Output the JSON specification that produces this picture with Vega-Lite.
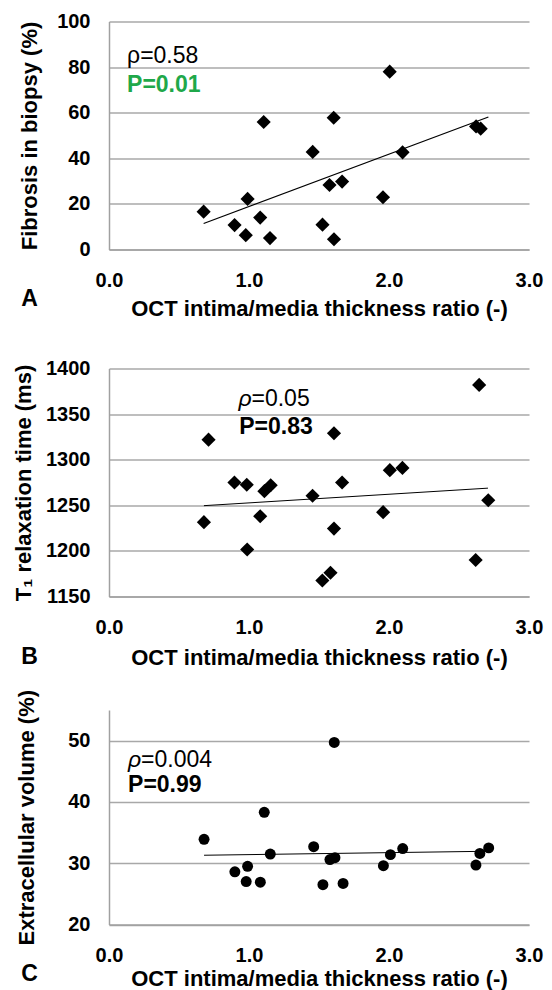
{
  "$schema": "https://vega.github.io/schema/vega-lite/v6.json",
  "background": "white",
  "padding": {"left": 12, "top": 11.5, "right": 5, "bottom": 5},
  "datasets": {
    "a": [
      {"x": 0.676, "y": 16.6}, {"x": 0.897, "y": 10.7}, {"x": 0.977, "y": 6.3}, {"x": 0.99, "y": 22.2},
      {"x": 1.08, "y": 14.0}, {"x": 1.105, "y": 55.9}, {"x": 1.15, "y": 5.0}, {"x": 1.455, "y": 42.8},
      {"x": 1.525, "y": 10.9}, {"x": 1.575, "y": 28.3}, {"x": 1.605, "y": 57.8}, {"x": 1.607, "y": 4.5},
      {"x": 1.665, "y": 29.8}, {"x": 1.957, "y": 22.9}, {"x": 2.005, "y": 78.0}, {"x": 2.097, "y": 42.6},
      {"x": 2.622, "y": 54.0}, {"x": 2.655, "y": 53.0}
    ],
    "aTrend": [{"x": 0.676, "y": 11.4}, {"x": 2.71, "y": 58.1}],
    "b": [
      {"x": 0.678, "y": 1231.5}, {"x": 0.711, "y": 1322}, {"x": 0.896, "y": 1275}, {"x": 0.984, "y": 1272.5},
      {"x": 0.987, "y": 1201.5}, {"x": 1.08, "y": 1238}, {"x": 1.11, "y": 1265.5}, {"x": 1.155, "y": 1272},
      {"x": 1.454, "y": 1260.5}, {"x": 1.524, "y": 1167.5}, {"x": 1.582, "y": 1176}, {"x": 1.607, "y": 1329},
      {"x": 1.607, "y": 1224.5}, {"x": 1.665, "y": 1275}, {"x": 1.958, "y": 1242.5}, {"x": 2.006, "y": 1288.5},
      {"x": 2.096, "y": 1291}, {"x": 2.619, "y": 1190}, {"x": 2.644, "y": 1382}, {"x": 2.709, "y": 1255.5}
    ],
    "bTrend": [{"x": 0.678, "y": 1249.6}, {"x": 2.707, "y": 1268.8}],
    "c": [
      {"x": 0.679, "y": 33.9}, {"x": 0.899, "y": 28.6}, {"x": 0.98, "y": 27.0}, {"x": 0.99, "y": 29.5},
      {"x": 1.081, "y": 26.9}, {"x": 1.109, "y": 38.3}, {"x": 1.152, "y": 31.5}, {"x": 1.462, "y": 32.7},
      {"x": 1.528, "y": 26.5}, {"x": 1.578, "y": 30.6}, {"x": 1.614, "y": 30.9}, {"x": 1.609, "y": 49.7},
      {"x": 1.672, "y": 26.7}, {"x": 1.96, "y": 29.6}, {"x": 2.01, "y": 31.4}, {"x": 2.098, "y": 32.4},
      {"x": 2.621, "y": 29.7}, {"x": 2.649, "y": 31.6}, {"x": 2.712, "y": 32.5}
    ],
    "cTrend": [{"x": 0.679, "y": 31.3}, {"x": 2.705, "y": 31.95}]
  },
  "config": {
    "view": {"stroke": null},
    "font": "Liberation Sans",
    "axis": {
      "labelFont": "Liberation Sans", "labelFontWeight": "bold", "labelFontSize": 20, "labelColor": "black",
      "titleFont": "Liberation Sans", "titleFontWeight": "bold", "titleFontSize": 22, "titleColor": "black",
      "ticks": false, "domainColor": "#a0a0a0", "domainWidth": 1.5, "gridColor": "#a8a8a8", "gridWidth": 1.5,
      "labelFlush": false, "labelOverlap": false, "labelBound": false
    }
  },
  "vconcat": [
    {
      "width": 420, "height": 228,
      "layer": [
        {
          "data": {"name": "a"},
          "mark": {"type": "point", "shape": "diamond", "filled": true, "color": "black", "opacity": 1, "size": 200},
          "encoding": {
            "x": {"field": "x", "type": "quantitative", "scale": {"domain": [0, 3], "nice": false},
                  "axis": {"values": [0, 1, 2, 3], "format": ".1f", "grid": false, "labelPadding": 21, "titlePadding": 8, "title": "OCT intima/media thickness ratio (-)"}},
            "y": {"field": "y", "type": "quantitative", "scale": {"domain": [0, 100], "nice": false},
                  "axis": {"values": [0, 20, 40, 60, 80, 100], "labelPadding": 19, "titlePadding": 15, "title": "Fibrosis in biopsy (%)"}}
          }
        },
        {
          "data": {"name": "aTrend"},
          "mark": {"type": "line", "color": "black", "strokeWidth": 1.2},
          "encoding": {"x": {"field": "x", "type": "quantitative"}, "y": {"field": "y", "type": "quantitative"}}
        },
        {
          "data": {"values": [{"x": 0.129, "y": 82, "label": "ρ=0.58"}]},
          "mark": {"type": "text", "align": "left", "baseline": "alphabetic", "fontSize": 23, "color": "black"},
          "encoding": {"x": {"field": "x", "type": "quantitative"}, "y": {"field": "y", "type": "quantitative"}, "text": {"field": "label"}}
        },
        {
          "data": {"values": [{"x": 0.129, "y": 69, "label": "P=0.01"}]},
          "mark": {"type": "text", "align": "left", "baseline": "alphabetic", "fontSize": 23, "fontWeight": "bold", "color": "#1fa84a"},
          "encoding": {"x": {"field": "x", "type": "quantitative"}, "y": {"field": "y", "type": "quantitative"}, "text": {"field": "label"}}
        },
        {
          "data": {"values": [{"x": -0.568, "y": -21.9, "label": "A"}]},
          "mark": {"type": "text", "align": "center", "baseline": "middle", "fontSize": 23, "fontWeight": "bold", "color": "black"},
          "encoding": {"x": {"field": "x", "type": "quantitative"}, "y": {"field": "y", "type": "quantitative"}, "text": {"field": "label"}}
        }
      ]
    },
    {
      "vconcat": [
        {
          "width": 420, "height": 228,
          "layer": [
            {
              "data": {"name": "b"},
              "mark": {"type": "point", "shape": "diamond", "filled": true, "color": "black", "opacity": 1, "size": 200},
              "encoding": {
                "x": {"field": "x", "type": "quantitative", "scale": {"domain": [0, 3], "nice": false},
                      "axis": {"values": [0, 1, 2, 3], "format": ".1f", "grid": false, "labelPadding": 21, "titlePadding": 10, "title": "OCT intima/media thickness ratio (-)"}},
                "y": {"field": "y", "type": "quantitative", "scale": {"domain": [1150, 1400], "nice": false, "zero": false},
                      "axis": {"values": [1150, 1200, 1250, 1300, 1350, 1400], "format": "d", "labelPadding": 19, "titlePadding": 10, "title": "T₁ relaxation time (ms)"}}
              }
            },
            {
              "data": {"name": "bTrend"},
              "mark": {"type": "line", "color": "black", "strokeWidth": 1},
              "encoding": {"x": {"field": "x", "type": "quantitative"}, "y": {"field": "y", "type": "quantitative"}}
            },
            {
              "data": {"values": [{"x": 0.925, "y": 1358.7, "label": "ρ"}]},
              "mark": {"type": "text", "align": "left", "baseline": "alphabetic", "fontSize": 23, "fontStyle": "italic", "color": "black"},
              "encoding": {"x": {"field": "x", "type": "quantitative"}, "y": {"field": "y", "type": "quantitative"}, "text": {"field": "label"}}
            },
            {
              "data": {"values": [{"x": 0.925, "y": 1358.7, "label": "=0.05"}]},
              "mark": {"type": "text", "align": "left", "baseline": "alphabetic", "fontSize": 23, "dx": 13, "color": "black"},
              "encoding": {"x": {"field": "x", "type": "quantitative"}, "y": {"field": "y", "type": "quantitative"}, "text": {"field": "label"}}
            },
            {
              "data": {"values": [{"x": 0.93, "y": 1327.8, "label": "P=0.83"}]},
              "mark": {"type": "text", "align": "left", "baseline": "alphabetic", "fontSize": 23, "fontWeight": "bold", "color": "black"},
              "encoding": {"x": {"field": "x", "type": "quantitative"}, "y": {"field": "y", "type": "quantitative"}, "text": {"field": "label"}}
            },
            {
              "data": {"values": [{"x": -0.568, "y": 1084, "label": "B"}]},
              "mark": {"type": "text", "align": "center", "baseline": "middle", "fontSize": 23, "fontWeight": "bold", "color": "black"},
              "encoding": {"x": {"field": "x", "type": "quantitative"}, "y": {"field": "y", "type": "quantitative"}, "text": {"field": "label"}}
            }
          ]
        },
        {
          "width": 420, "height": 214.5,
          "layer": [
            {
              "data": {"name": "c"},
              "mark": {"type": "circle", "color": "black", "opacity": 1, "size": 120},
              "encoding": {
                "x": {"field": "x", "type": "quantitative", "scale": {"domain": [0, 3], "nice": false},
                      "axis": {"values": [0, 1, 2, 3], "format": ".1f", "grid": false, "labelPadding": 21, "titlePadding": 3, "title": "OCT intima/media thickness ratio (-)"}},
                "y": {"field": "y", "type": "quantitative", "scale": {"domain": [20, 55], "nice": false, "zero": false},
                      "axis": {"values": [20, 30, 40, 50], "labelPadding": 19, "titlePadding": 29.5, "title": "Extracellular volume (%)"}}
              }
            },
            {
              "data": {"name": "cTrend"},
              "mark": {"type": "line", "color": "black", "strokeWidth": 1},
              "encoding": {"x": {"field": "x", "type": "quantitative"}, "y": {"field": "y", "type": "quantitative"}}
            },
            {
              "data": {"values": [{"x": 0.136, "y": 45.65, "label": "ρ"}]},
              "mark": {"type": "text", "align": "left", "baseline": "alphabetic", "fontSize": 23, "fontStyle": "italic", "color": "black"},
              "encoding": {"x": {"field": "x", "type": "quantitative"}, "y": {"field": "y", "type": "quantitative"}, "text": {"field": "label"}}
            },
            {
              "data": {"values": [{"x": 0.136, "y": 45.65, "label": "=0.004"}]},
              "mark": {"type": "text", "align": "left", "baseline": "alphabetic", "fontSize": 23, "dx": 13, "color": "black"},
              "encoding": {"x": {"field": "x", "type": "quantitative"}, "y": {"field": "y", "type": "quantitative"}, "text": {"field": "label"}}
            },
            {
              "data": {"values": [{"x": 0.136, "y": 41.6, "label": "P=0.99"}]},
              "mark": {"type": "text", "align": "left", "baseline": "alphabetic", "fontSize": 23, "fontWeight": "bold", "color": "black"},
              "encoding": {"x": {"field": "x", "type": "quantitative"}, "y": {"field": "y", "type": "quantitative"}, "text": {"field": "label"}}
            },
            {
              "data": {"values": [{"x": -0.568, "y": 11.9, "label": "C"}]},
              "mark": {"type": "text", "align": "center", "baseline": "middle", "fontSize": 23, "fontWeight": "bold", "color": "black"},
              "encoding": {"x": {"field": "x", "type": "quantitative"}, "y": {"field": "y", "type": "quantitative"}, "text": {"field": "label"}}
            }
          ]
        }
      ],
      "spacing": 113.5,
      "bounds": "flush"
    }
  ],
  "spacing": 119,
  "bounds": "flush"
}
